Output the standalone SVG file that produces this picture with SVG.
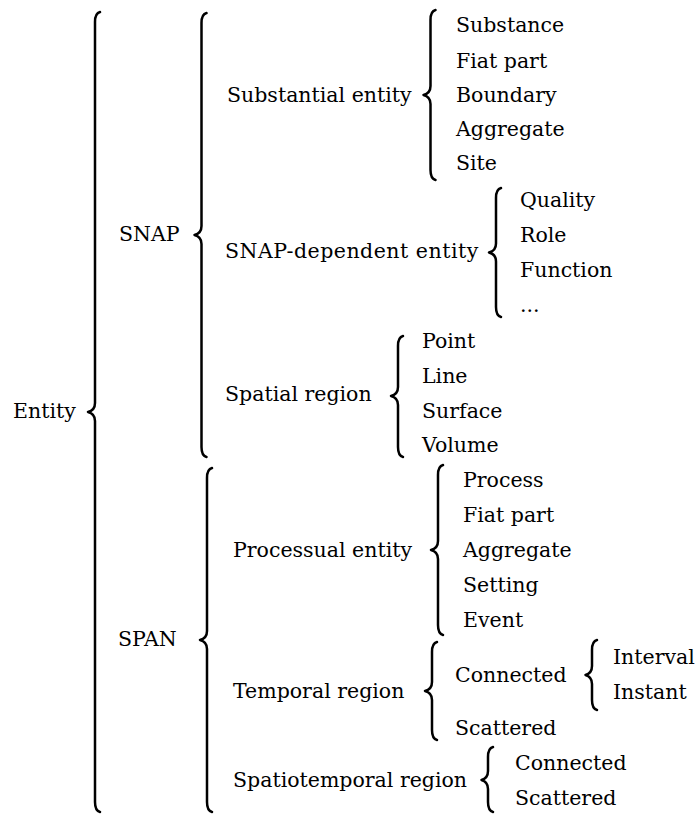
<svg xmlns="http://www.w3.org/2000/svg" width="696" height="814" viewBox="0 0 696 814">
<style>
text{font-family:"DejaVu Serif","Liberation Serif","Times New Roman",serif;font-size:20.5px;fill:#000}
.br{fill:none;stroke:#000;stroke-width:2.5;stroke-linecap:round;stroke-linejoin:round}
</style>
<rect width="696" height="814" fill="#fff"/>
<g id="connectors">
<path class="br" d="M100,12 C96,13 95,17 95,22 L95,403 C95,408 92,411 88,412 C92,413 95,416 95,421 L95,802 C95,807 96,811 100,812"/>
<path class="br" d="M206.5,13 C202.5,14 201.5,18 201.5,23 L201.5,226 C201.5,231 198.5,234 194.5,235 C198.5,236 201.5,239 201.5,244 L201.5,447 C201.5,452 202.5,456 206.5,457"/>
<path class="br" d="M435.5,10 C431.5,11 430.5,15 430.5,20 L430.5,86 C430.5,91 427.5,94 423.5,95 C427.5,96 430.5,99 430.5,104 L430.5,170 C430.5,175 431.5,179 435.5,180"/>
<path class="br" d="M501,188 C497,189 496,193 496,198 L496,243.5 C496,248.5 493,251.5 489,252.5 C493,253.5 496,256.5 496,261.5 L496,307 C496,312 497,316 501,317"/>
<path class="br" d="M403,336 C399,337 398,341 398,346 L398,387 C398,392 395,395 391,396 C395,397 398,400 398,405 L398,447 C398,452 399,456 403,457"/>
<path class="br" d="M212,468 C208,469 207,473 207,478 L207,631 C207,636 204,639 200,640 C204,641 207,644 207,649 L207,802 C207,807 208,811 212,812"/>
<path class="br" d="M443,465 C439,466 438,470 438,475 L438,541 C438,546 435,549 431,550 C435,551 438,554 438,559 L438,625 C438,630 439,634 443,635"/>
<path class="br" d="M437,642 C433,643 432,647 432,652 L432,682 C432,687 429,690 425,691 C429,692 432,695 432,700 L432,730 C432,735 433,739 437,740"/>
<path class="br" d="M597,640 C593,641 592,645 592,650 L592,666 C592,671 589,674 585.5,675 C589,676 592,679 592,684 L592,700 C592,705 593,709 597,710"/>
<path class="br" d="M493,747 C489,748 488,752 488,757 L488,771 C488,776 485,779 481.5,780 C485,781 488,784 488,789 L488,802 C488,807 489,811 493,812"/>
</g>
<g id="entity"><text x="13" y="418">Entity</text></g>
<g id="snap"><text x="119" y="241">SNAP</text></g>
<g id="span"><text x="118" y="646">SPAN</text></g>
<g id="substantial-entity"><text x="227" y="102">Substantial entity</text></g>
<g id="substance"><text x="456" y="32">Substance</text></g>
<g id="fiat-part-1"><text x="456" y="68">Fiat part</text></g>
<g id="boundary"><text x="456" y="102">Boundary</text></g>
<g id="aggregate-1"><text x="456" y="136">Aggregate</text></g>
<g id="site"><text x="456" y="170">Site</text></g>
<g id="snap-dependent-entity"><text x="225" y="258" letter-spacing="0.5">SNAP-dependent entity</text></g>
<g id="quality"><text x="520" y="207">Quality</text></g>
<g id="role"><text x="520" y="242">Role</text></g>
<g id="function"><text x="520" y="277">Function</text></g>
<g id="ellipsis"><text x="520" y="312">...</text></g>
<g id="spatial-region"><text x="225" y="401">Spatial region</text></g>
<g id="point"><text x="422" y="348">Point</text></g>
<g id="line"><text x="422" y="383">Line</text></g>
<g id="surface"><text x="422" y="418">Surface</text></g>
<g id="volume"><text x="422" y="452">Volume</text></g>
<g id="processual-entity"><text x="233" y="557">Processual entity</text></g>
<g id="process"><text x="463" y="487">Process</text></g>
<g id="fiat-part-2"><text x="463" y="522">Fiat part</text></g>
<g id="aggregate-2"><text x="463" y="557">Aggregate</text></g>
<g id="setting"><text x="463" y="592">Setting</text></g>
<g id="event"><text x="463" y="627">Event</text></g>
<g id="temporal-region"><text x="233" y="698">Temporal region</text></g>
<g id="connected-1"><text x="455" y="682">Connected</text></g>
<g id="scattered-1"><text x="455" y="735">Scattered</text></g>
<g id="interval"><text x="613" y="664">Interval</text></g>
<g id="instant"><text x="613" y="699">Instant</text></g>
<g id="spatiotemporal-region"><text x="233" y="787">Spatiotemporal region</text></g>
<g id="connected-2"><text x="515" y="770">Connected</text></g>
<g id="scattered-2"><text x="515" y="805">Scattered</text></g>
</svg>
